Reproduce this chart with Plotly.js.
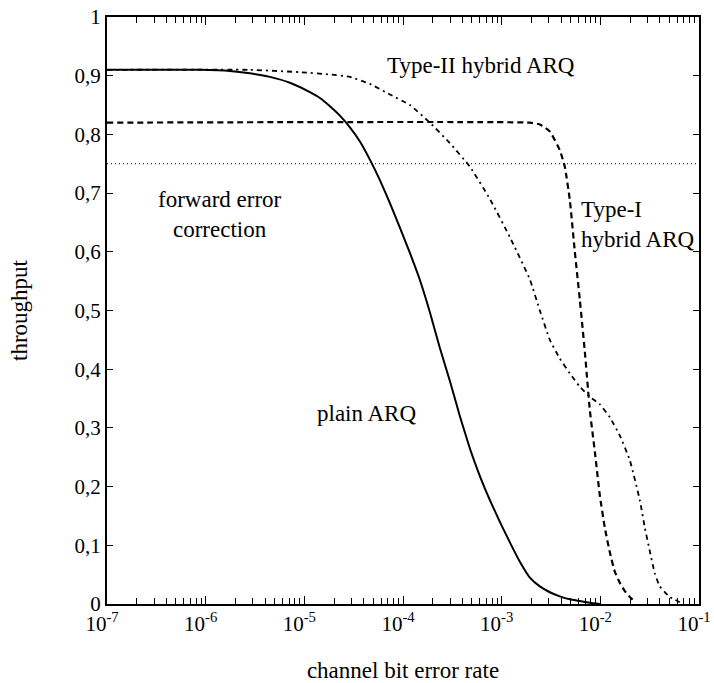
<!DOCTYPE html>
<html>
<head>
<meta charset="utf-8">
<script src="https://cdn.plot.ly/plotly-3.0.1.min.js"></script>
<style>
  html, body { margin: 0; padding: 0; background: #fff; }
  #chart { width: 714px; height: 683px; }
</style>
</head>
<body>
<div id="chart"></div>
<script>
// Throughput vs. channel bit error rate for four error-control schemes.

// plain ARQ
const plainBer = [1e-7, 8.755e-7, 1.763e-6, 2.811e-6, 4.482e-6, 7.146e-6, 1.139e-5, 1.439e-5,
  1.817e-5, 2.294e-5, 2.897e-5, 3.658e-5, 4.619e-5, 5.834e-5, 7.367e-5, 9.30e-5, 1.175e-4,
  1.483e-4, 1.873e-4, 2.365e-4, 2.987e-4, 3.771e-4, 4.762e-4, 6.013e-4, 7.594e-4, 9.59e-4,
  1.211e-3, 1.529e-3, 1.931e-3, 2.438e-3, 3.079e-3, 3.888e-3, 4.909e-3, 6.199e-3, 7.828e-3, 9.88e-3];
const plainThr = [0.91, 0.91, 0.908, 0.904, 0.898, 0.888, 0.872, 0.862,
  0.848, 0.832, 0.812, 0.788, 0.757, 0.722, 0.683, 0.641, 0.598,
  0.552, 0.497, 0.436, 0.38, 0.32, 0.265, 0.218, 0.177, 0.14,
  0.105, 0.072, 0.045, 0.03, 0.02, 0.013, 0.008, 0.005, 0.002, 0.0];

// Type-I hybrid ARQ
const type1Ber = [1e-7, 1.931e-3, 2.438e-3, 3.079e-3, 3.888e-3, 4.367e-3, 4.909e-3, 5.515e-3,
  6.199e-3, 6.966e-3, 7.828e-3, 8.79e-3, 9.88e-3, 1.11e-2, 1.248e-2, 1.402e-2, 1.576e-2,
  1.771e-2, 1.99e-2, 2.236e-2];
const type1Thr = [0.82, 0.82, 0.817, 0.805, 0.773, 0.745, 0.688, 0.60,
  0.518, 0.43, 0.33, 0.26, 0.185, 0.13, 0.088, 0.055, 0.036,
  0.022, 0.012, 0.004];

// Type-II hybrid ARQ
const type2Ber = [1e-7, 2.811e-6, 9.02e-6, 1.82e-5, 2.897e-5, 4.619e-5, 7.367e-5, 1.175e-4,
  1.873e-4, 2.987e-4, 4.762e-4, 7.594e-4, 1.211e-3, 1.931e-3, 2.438e-3, 3.079e-3, 3.888e-3,
  4.909e-3, 6.199e-3, 7.828e-3, 9.88e-3, 1.248e-2, 1.576e-2, 1.99e-2, 2.513e-2, 2.825e-2,
  3.173e-2, 3.566e-2, 4.006e-2, 5.06e-2, 6.39e-2];
const type2Thr = [0.91, 0.91, 0.906, 0.902, 0.898, 0.886, 0.868, 0.85,
  0.82, 0.785, 0.745, 0.69, 0.625, 0.553, 0.50, 0.45, 0.418,
  0.393, 0.37, 0.353, 0.34, 0.318, 0.287, 0.245, 0.177, 0.13,
  0.09, 0.052, 0.03, 0.012, 0.003];

// forward error correction
const fecBer = [1e-7, 1e-1];
const fecThr = [0.75, 0.75];

// axis ticks
const xTickVals = [1e-7, 1e-6, 1e-5, 1e-4, 1e-3, 1e-2, 1e-1];
const xTickText = ['10<sup>-7</sup>', '10<sup>-6</sup>', '10<sup>-5</sup>', '10<sup>-4</sup>',
  '10<sup>-3</sup>', '10<sup>-2</sup>', '10<sup>-1</sup>'];
const yTickVals = [0, 0.1, 0.2, 0.3, 0.4, 0.5, 0.6, 0.7, 0.8, 0.9, 1];
const yTickText = ['0', '0,1', '0,2', '0,3', '0,4', '0,5', '0,6', '0,7', '0,8', '0,9', '1'];

const serif = 'Liberation Serif, Times New Roman, serif';

const traces = [
  { x: fecBer, y: fecThr, mode: 'lines', name: 'forward error correction',
    line: { color: '#000', width: 1, dash: '1px,3px' } },
  { x: plainBer, y: plainThr, mode: 'lines', name: 'plain ARQ',
    line: { color: '#000', width: 2, shape: 'spline', smoothing: 0.4 } },
  { x: type1Ber, y: type1Thr, mode: 'lines', name: 'Type-I hybrid ARQ',
    line: { color: '#000', width: 2.2, dash: '6px,4px', shape: 'spline', smoothing: 0.4 } },
  { x: type2Ber, y: type2Thr, mode: 'lines', name: 'Type-II hybrid ARQ',
    line: { color: '#000', width: 1.8, dash: '5px,4px,2px,4px', shape: 'spline', smoothing: 0.4 } }
];

const labelFont = { family: serif, size: 23, color: '#000' };
const tickFont = { family: serif, size: 21, color: '#000' };

const layout = {
  width: 714, height: 683,
  margin: { l: 107, r: 15, t: 17, b: 79 },
  paper_bgcolor: '#fff', plot_bgcolor: '#fff',
  showlegend: false,
  font: { family: serif, size: 21, color: '#000' },
  xaxis: {
    type: 'log', range: [-7, -1],
    tickmode: 'array', tickvals: xTickVals, ticktext: xTickText,
    ticklabeloverflow: 'allow', ticklabelshift: -5,
    ticks: 'inside', ticklen: 8, tickwidth: 1, tickcolor: '#000',
    minor: { ticks: 'inside', ticklen: 6, tickwidth: 1, tickcolor: '#000', dtick: 'D1' },
    showline: true, linecolor: '#000', linewidth: 2, mirror: 'ticks',
    showgrid: false, zeroline: false,
    tickfont: tickFont,
    title: { text: 'channel bit error rate', font: labelFont, standoff: 30 }
  },
  yaxis: {
    range: [0, 1],
    tickmode: 'array', tickvals: yTickVals, ticktext: yTickText,
    ticks: 'inside', ticklen: 6, tickwidth: 1, tickcolor: '#000',
    showline: true, linecolor: '#000', linewidth: 2, mirror: 'ticks',
    showgrid: false, zeroline: false,
    tickfont: tickFont,
    title: { text: 'throughput', font: labelFont, standoff: 40 }
  },
  annotations: [
    { text: 'Type-II hybrid ARQ', xref: 'paper', yref: 'paper', x: 0.632, y: 0.918,
      xanchor: 'center', yanchor: 'middle', showarrow: false, font: labelFont },
    { text: 'forward error<br>correction', xref: 'paper', yref: 'paper', x: 0.191, y: 0.664,
      xanchor: 'center', yanchor: 'middle', showarrow: false, font: labelFont, align: 'center' },
    { text: 'Type-I<br>hybrid ARQ', xref: 'paper', yref: 'paper', x: 0.797, y: 0.646,
      xanchor: 'left', yanchor: 'middle', showarrow: false, font: labelFont, align: 'left' },
    { text: 'plain ARQ', xref: 'paper', yref: 'paper', x: 0.4375, y: 0.325,
      xanchor: 'center', yanchor: 'middle', showarrow: false, font: labelFont }
  ]
};

Plotly.newPlot('chart', traces, layout, { displayModeBar: false, staticPlot: true });
</script>
</body>
</html>
